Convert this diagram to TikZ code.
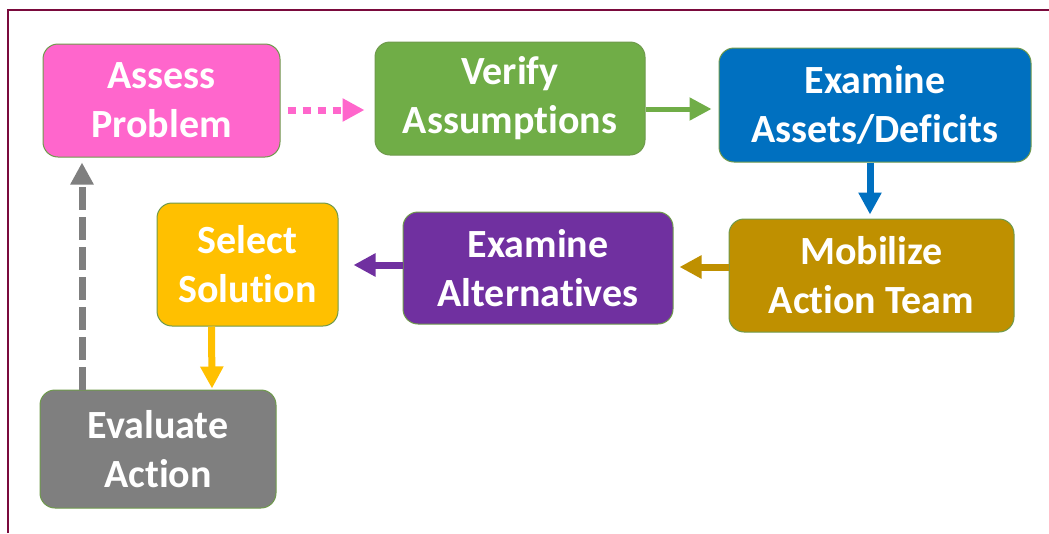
\documentclass[tikz,border=0pt]{standalone}
\usepackage{fontspec}
\setmainfont[Ligatures=NoCommon]{Carlito}
\usetikzlibrary{arrows.meta}
\definecolor{framec}{HTML}{7A0A3C}
\definecolor{edgec}{HTML}{6F9A4C}
\definecolor{pinkc}{HTML}{FF66CC}
\definecolor{greenc}{HTML}{70AD47}
\definecolor{bluec}{HTML}{0070C0}
\definecolor{goldc}{HTML}{BF9000}
\definecolor{purplec}{HTML}{7030A0}
\definecolor{yellowc}{HTML}{FFC000}
\definecolor{greyc}{HTML}{7F7F7F}
\newcommand{\nolig}{\kern0pt}
\tikzset{
  stepbox/.style={draw=edgec, line width=1pt, rounded corners=15pt, text=white,
    font=\fontsize{40}{49}\selectfont\bfseries, align=center, inner sep=0pt},
  flow/.style={-{Triangle[length=22pt,width=22pt]}, line width=7pt},
}
\begin{document}
\begin{tikzpicture}[x=1pt,y=-1pt]
\useasboundingbox (0,0) rectangle (1049,533);
\fill[white] (0,0) rectangle (1049,533);
\draw[framec, line width=2pt] (8,533) -- (8,10) -- (1049,10);

\node[stepbox, fill=pinkc, minimum width=237pt, minimum height=113pt] (A) at (161.5,100.5) {Assess\\Problem};
\node[stepbox, fill=greenc, minimum width=270pt, minimum height=113pt] (V) at (510,98.5) {Verify\\Assumpt\nolig ions};
\node[stepbox, fill=bluec, minimum width=312pt, minimum height=114pt] (E) at (875,105) {Examine\\Assets/Defi\nolig cits};
\node[stepbox, fill=goldc, minimum width=285pt, minimum height=113pt] (M) at (871.5,275.5) {Mobilize\\Act\nolig ion Team};
\node[stepbox, fill=purplec, minimum width=270pt, minimum height=112pt] (X) at (538,268) {Examine\\Alternat\nolig ives};
\node[stepbox, fill=yellowc, minimum width=181pt, minimum height=123pt] (S) at (247.5,264.5) {Select\\Solut\nolig ion};
\node[stepbox, fill=greyc, minimum width=236pt, minimum height=118pt] (Ev) at (158,449) {Evaluate\\Act\nolig ion};

\draw[flow, pinkc, dash pattern=on 8pt off 7pt] ([shift={(7,9.5)}]A.east) -- ([shift={(-10,11.5)}]V.west);
\draw[flow, greenc, line width=5pt] ([shift={(0,10.5)}]V.east) -- ([shift={(-7,4)}]E.west);
\draw[flow, bluec] ([shift={(-5,0)}]E.south) -- ([shift={(-1.5,-4)}]M.north);
\draw[flow, goldc] ([shift={(0,-8.5)}]M.west) -- ([shift={(6,-1)}]X.east);
\draw[flow, purplec] ([shift={(0,-3)}]X.west) -- ([shift={(15,0.5)}]S.east);
\draw[flow, yellowc] ([shift={(-36,0)}]S.south) -- ([shift={(54,-1)}]Ev.north);
\draw[flow, greyc, dash pattern=on 23pt off 7pt] ([shift={(-76,0)}]Ev.north) -- ([shift={(-79.5,5)}]A.south);
\end{tikzpicture}
\end{document}
